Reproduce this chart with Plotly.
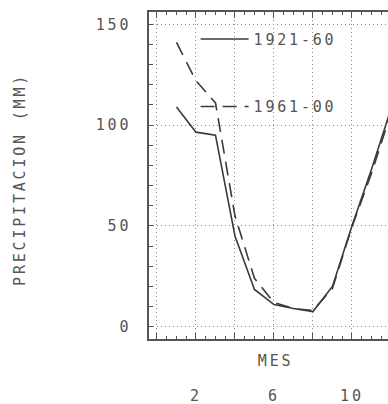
import plotly.graph_objects as go

# ---- data ----
months = [1, 2, 3, 4, 5, 6, 7, 8, 9, 10, 11, 12]
p_1921_60 = [109, 96.5, 95, 45, 18.5, 11, 9, 7.5, 20, 50, 78, 108]
p_1961_00 = [141, 122, 111, 55, 24, 12, 9, 8, 19, 49.5, 76, 106]
series_names = ["1921-60", "1961-00"]

x_tickvals = [0, 2, 4, 6, 8, 10, 12]
x_ticktext = ["", "2", "", "6", "", "10", ""]
y_tickvals = [0, 50, 100, 150]
y_ticktext = ["0", "50", "100", "150"]

FONT = "DejaVu Sans Mono"
TXT = "#555555"
LINE = "#3a3a3a"
GRID = "#8a8a8a"

fig = go.Figure()
fig.add_trace(go.Scatter(
    x=months, y=p_1921_60, mode="lines", name=series_names[0],
    legendgroup="a", line=dict(color=LINE, width=1.6)))
fig.add_trace(go.Scatter(
    x=months, y=p_1961_00, mode="lines", name=series_names[1],
    legendgroup="b", line=dict(color=LINE, width=1.6, dash="14px,8px")))

fig.update_layout(
    width=388, height=404,
    margin=dict(l=149, r=0, t=12, b=65, autoexpand=False),
    paper_bgcolor="white", plot_bgcolor="white",
    font=dict(family=FONT, size=14, color=TXT),
    showlegend=True,
    legend=dict(x=0.195, y=0.967, xanchor="left", yanchor="top",
                bgcolor="rgba(0,0,0,0)", borderwidth=0,
                tracegroupgap=45, itemwidth=48,
                font=dict(family=FONT, size=15, color=TXT)),
    xaxis=dict(range=[-0.41, 11.85], tickvals=x_tickvals, ticktext=x_ticktext,
               showline=True, linecolor="#555", linewidth=1.5,
               mirror="allticks", ticks="inside", ticklen=6, tickcolor="#555",
               minor=dict(dtick=0.5, tick0=0, ticks="inside", ticklen=3,
                          tickcolor="#555", showgrid=False),
               showgrid=True, gridcolor=GRID, griddash="1px,3px", gridwidth=1,
               zeroline=False, ticklabelstandoff=42, automargin=False,
               tickfont=dict(family=FONT, size=15, color=TXT)),
    yaxis=dict(range=[-6.1, 156.1], tickvals=y_tickvals, ticktext=y_ticktext,
               showline=True, linecolor="#555", linewidth=1.5, mirror=False,
               ticks="inside", ticklen=4, tickcolor="#555",
               minor=dict(dtick=10, tick0=0, ticks="inside", ticklen=4,
                          tickcolor="#555", showgrid=False),
               showgrid=True, gridcolor=GRID, griddash="1px,3px", gridwidth=1,
               zeroline=False, ticklabelstandoff=13, automargin=False,
               tickfont=dict(family=FONT, size=15, color=TXT)),
    annotations=[
        dict(text="MES", xref="x", x=6.1, yref="paper", y=-0.067,
             xanchor="center", yanchor="middle", showarrow=False,
             font=dict(family=FONT, size=15, color=TXT)),
        dict(text="PRECIPITACION (MM)", xref="paper", x=-0.54, yref="paper",
             y=0.49, xanchor="center", yanchor="middle", showarrow=False,
             textangle=-90, font=dict(family=FONT, size=15, color=TXT)),
    ],
)

post = (
    "var s=document.createElement('style');"
    "s.textContent='body{margin:0;overflow:hidden} "
    ".main-svg text{letter-spacing:2.8px} "
    ".legend, .legend *{clip-path:none !important}';"
    "document.head.appendChild(s);"
)
fig.write_html("out.html", post_script=post, config={"displayModeBar": False})
